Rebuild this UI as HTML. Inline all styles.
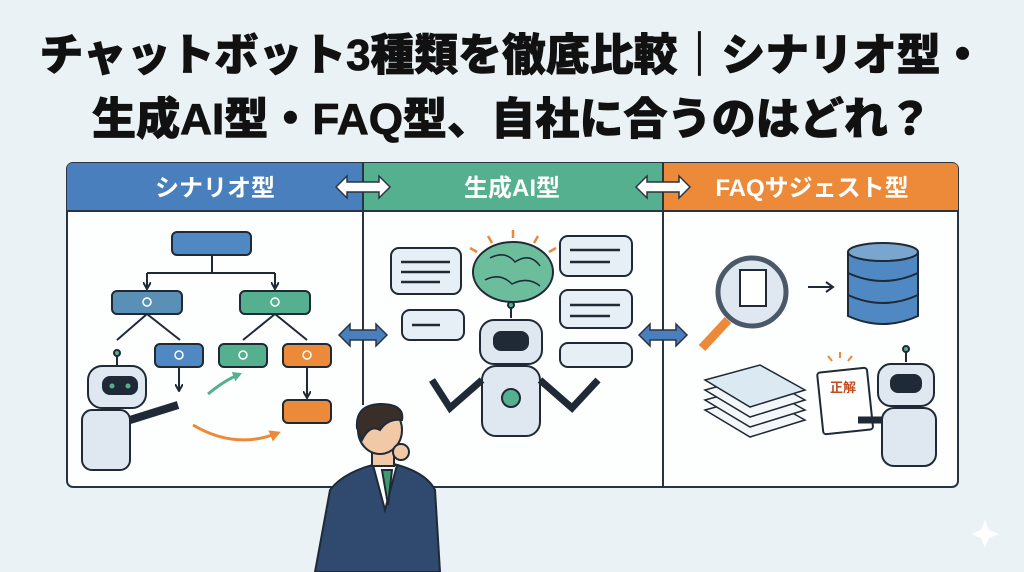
<!DOCTYPE html>
<html><head><meta charset="utf-8"><style>
html,body{margin:0;padding:0;width:1024px;height:572px;overflow:hidden;background:#ebf2f5;}
svg{display:block}
</style></head><body>
<svg width="1024" height="572" viewBox="0 0 1024 572" xmlns="http://www.w3.org/2000/svg" font-family="'Liberation Sans','Noto Sans CJK JP',sans-serif">
<defs>
<marker id="ah" markerWidth="8" markerHeight="8" refX="6" refY="4" orient="auto" markerUnits="userSpaceOnUse"><path d="M0 0 L7 4 L0 8" fill="none" stroke="#1f2a36" stroke-width="2"/></marker>
<marker id="ag" markerWidth="10" markerHeight="10" refX="7" refY="5" orient="auto" markerUnits="userSpaceOnUse"><path d="M0 0 L9 5 L0 10Z" fill="#55b08f"/></marker>
<marker id="ao" markerWidth="12" markerHeight="12" refX="8" refY="6" orient="auto" markerUnits="userSpaceOnUse"><path d="M0 0 L11 6 L0 12Z" fill="#ec8a3a"/></marker>
</defs>
<rect width="1024" height="572" fill="#ebf2f5"/>
<text x="512" y="70" text-anchor="middle" font-size="44" font-weight="900" fill="#111" stroke="#111" stroke-width="0.8" textLength="945" lengthAdjust="spacingAndGlyphs">チャットボット3種類を徹底比較｜シナリオ型・</text>
<text x="512" y="134" text-anchor="middle" font-size="44" font-weight="900" fill="#111" stroke="#111" stroke-width="0.8" textLength="840" lengthAdjust="spacingAndGlyphs">生成AI型・FAQ型、自社に合うのはどれ？</text>
<rect x="67" y="163" width="891" height="324" rx="6" fill="#fdfefe" stroke="#2a3340" stroke-width="2"/>
<path d="M73 163 H363 V211 H67 V169 Q67 163 73 163Z" fill="#4a7fbd"/>
<rect x="363" y="163" width="300" height="48" fill="#55b08f"/>
<path d="M663 163 H952 Q958 163 958 169 V211 H663Z" fill="#ec8a3a"/>
<line x1="67" y1="211" x2="958" y2="211" stroke="#2a3340" stroke-width="2"/>
<line x1="363" y1="163" x2="363" y2="405" stroke="#2a3340" stroke-width="2"/>
<line x1="663" y1="163" x2="663" y2="487" stroke="#2a3340" stroke-width="2"/>
<text x="215" y="196" text-anchor="middle" font-size="24" font-weight="bold" fill="#fff">シナリオ型</text>
<text x="512" y="196" text-anchor="middle" font-size="24" font-weight="bold" fill="#fff">生成AI型</text>
<text x="812" y="196" text-anchor="middle" font-size="24" font-weight="bold" fill="#fff">FAQサジェスト型</text>
<g stroke="#2a3340" stroke-width="1.5">
<path d="M336 187 L347 176 V182 H379 V176 L390 187 L379 198 V192 H347 V198Z" fill="#fff"/>
<path d="M636 187 L647 176 V182 H679 V176 L690 187 L679 198 V192 H647 V198Z" fill="#fff"/>
<path d="M339 335 L350 324 V330 H376 V324 L387 335 L376 346 V340 H350 V346Z" fill="#4a7fbd"/>
<path d="M639 335 L650 324 V330 H676 V324 L687 335 L676 346 V340 H650 V346Z" fill="#4a7fbd"/>
</g>
<g stroke="#1f2a36" stroke-width="2">
<rect x="172" y="232" width="79" height="23" rx="5" fill="#4f88c2"/>
<path d="M212 255 V273 M147 273 H275" fill="none"/>
<path d="M147 273 V288" fill="none" marker-end="url(#ah)"/>
<path d="M275 273 V288" fill="none" marker-end="url(#ah)"/>
<rect x="112" y="291" width="70" height="23" rx="5" fill="#5a8fb6"/>
<rect x="240" y="291" width="70" height="23" rx="5" fill="#55b08f"/>
<path d="M147 314 L117 340 M147 314 L180 340 M275 314 L243 340 M275 314 L307 340" fill="none"/>
<rect x="155" y="344" width="48" height="23" rx="5" fill="#4f88c2"/>
<rect x="219" y="344" width="48" height="23" rx="5" fill="#55b08f"/>
<rect x="283" y="344" width="48" height="23" rx="5" fill="#ec8a3a"/>
<path d="M179 367 V390" fill="none" marker-end="url(#ah)"/>
<path d="M307 367 V397" fill="none" marker-end="url(#ah)"/>
<rect x="283" y="400" width="48" height="23" rx="5" fill="#ec8a3a"/>
</g>
<g fill="none" stroke="#fff" stroke-width="1.5">
<circle cx="147" cy="302" r="4"/><circle cx="275" cy="302" r="4"/><circle cx="179" cy="355" r="4"/><circle cx="243" cy="355" r="4"/><circle cx="307" cy="355" r="4"/>
</g>
<path d="M208 394 Q225 380 240 374" stroke="#55b08f" stroke-width="3" fill="none" marker-end="url(#ag)"/>
<path d="M193 425 Q235 450 278 433" stroke="#ec8a3a" stroke-width="3" fill="none" marker-end="url(#ao)"/>
<g stroke="#1f2a36" stroke-width="2">
<rect x="88" y="366" width="58" height="42" rx="14" fill="#dfe8f0"/>
<rect x="103" y="377" width="34" height="17" rx="7" fill="#1f2a36"/>
<rect x="82" y="410" width="48" height="60" rx="10" fill="#dfe8f0"/>
<path d="M130 420 L178 405" stroke-width="8"/>
<line x1="117" y1="366" x2="117" y2="356"/><circle cx="117" cy="353" r="3" fill="#55b08f"/>
</g>
<circle cx="112" cy="386" r="2.5" fill="#55b08f"/><circle cx="128" cy="386" r="2.5" fill="#55b08f"/>
<g stroke="#1f2a36" stroke-width="2" fill="#e6eff5">
<rect x="391" y="248" width="70" height="46" rx="8"/>
<rect x="402" y="310" width="62" height="30" rx="8"/>
<rect x="560" y="236" width="72" height="40" rx="8"/>
<rect x="560" y="290" width="72" height="38" rx="8"/>
<rect x="560" y="343" width="72" height="24" rx="8"/>
</g>
<g stroke="#1f2a36" stroke-width="2.5">
<path d="M401 262 H450 M401 272 H450 M401 282 H440 M412 325 H440 M570 250 H620 M570 262 H610 M570 305 H620 M570 316 H610"/>
</g>
<ellipse cx="513" cy="272" rx="40" ry="30" fill="#6cbd9c" stroke="#1f2a36" stroke-width="2"/>
<path d="M490 258 Q505 250 515 262 Q530 252 540 266 M485 280 Q500 272 512 284 Q528 276 540 286" stroke="#1f2a36" stroke-width="1.5" fill="none"/>
<g stroke="#ec8a3a" stroke-width="2.5"><path d="M513 230 V238 M488 236 L492 243 M538 236 L534 243 M470 248 L477 252 M556 248 L549 252"/></g>
<g stroke="#1f2a36" stroke-width="2">
<line x1="511" y1="318" x2="511" y2="308"/><circle cx="511" cy="305" r="3" fill="#55b08f"/>
<rect x="480" y="320" width="62" height="44" rx="14" fill="#dfe8f0"/>
<rect x="494" y="332" width="34" height="18" rx="7" fill="#1f2a36"/>
<rect x="482" y="366" width="58" height="70" rx="14" fill="#dfe8f0"/>
<circle cx="511" cy="398" r="9" fill="#55b08f"/>
<path d="M482 380 L450 408 L432 380 M540 380 L572 408 L598 380" stroke-width="7" fill="none"/>
</g>
<g stroke="#1f2a36" stroke-width="2">
<line x1="728" y1="320" x2="702" y2="348" stroke="#ec8a3a" stroke-width="9"/>
<circle cx="752" cy="292" r="34" fill="#dfe8f0" stroke-width="5" stroke="#4a5868"/>
<rect x="740" y="270" width="26" height="36" fill="#fff"/>
<path d="M808 287 H832" /><path d="M826 282 L833 287 L826 292" fill="none"/>
</g>
<g stroke="#1f2a36" stroke-width="2" fill="#4f88c2">
<path d="M848 252 V316 Q883 332 918 316 V252"/>
<ellipse cx="883" cy="252" rx="35" ry="9" fill="#7aa5cf"/>
<path d="M848 273 Q883 289 918 273 M848 295 Q883 311 918 295" fill="none"/>
</g>
<g stroke="#1f2a36" stroke-width="1.5" fill="#f4f7fa">
<path d="M705 410 L760 395 L805 420 L750 437Z"/>
<path d="M705 400 L760 385 L805 410 L750 427Z"/>
<path d="M705 390 L760 375 L805 400 L750 417Z"/>
<path d="M705 380 L760 365 L805 390 L750 407Z" fill="#dbe9f2"/>
</g>
<rect x="820" y="370" width="50" height="62" rx="3" fill="#fff" stroke="#1f2a36" stroke-width="2" transform="rotate(-6 845 400)"/>
<text x="843" y="392" text-anchor="middle" font-size="13" font-weight="bold" fill="#c44a1e">正解</text>
<g stroke="#ec8a3a" stroke-width="2"><path d="M840 352 V358 M828 356 L832 361 M852 356 L848 361"/></g>
<g stroke="#1f2a36" stroke-width="2">
<line x1="906" y1="362" x2="906" y2="352"/><circle cx="906" cy="349" r="3" fill="#55b08f"/>
<rect x="878" y="364" width="56" height="42" rx="13" fill="#dfe8f0"/>
<rect x="891" y="375" width="30" height="17" rx="7" fill="#1f2a36"/>
<rect x="882" y="408" width="54" height="58" rx="12" fill="#dfe8f0"/>
<path d="M882 420 L858 420" stroke-width="7"/>
</g>
<g stroke="#1f2a36" stroke-width="2">
<path d="M315 572 L330 490 Q345 470 385 462 Q425 470 435 490 L440 572Z" fill="#2f4a6e"/>
<path d="M373 465 L385 510 L397 465Z" fill="#fff"/>
<path d="M382 470 L388 505 L392 470Z" fill="#3f9a6e"/>
<rect x="372" y="440" width="22" height="26" fill="#f2c9a6"/>
<ellipse cx="380" cy="430" rx="22" ry="24" fill="#f2c9a6"/>
<path d="M357 428 Q355 405 380 404 Q405 404 402 420 Q388 418 380 430 Q370 424 362 440Z" fill="#3a2f28"/>
<circle cx="401" cy="452" r="8" fill="#f2c9a6"/>
</g>
<path d="M985 520 L989 530 L999 534 L989 538 L985 548 L981 538 L971 534 L981 530Z" fill="#fff"/>
</svg>
</body></html>
